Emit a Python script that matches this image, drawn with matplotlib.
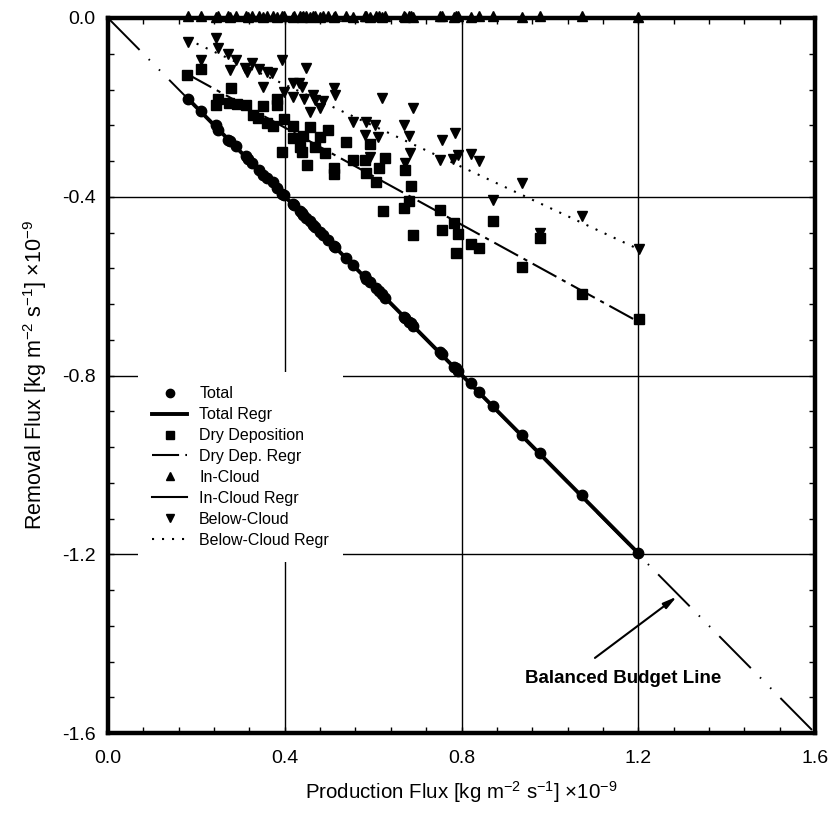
import matplotlib
matplotlib.use("Agg")
import matplotlib.pyplot as plt
from matplotlib.ticker import MultipleLocator
import numpy as np

plt.rcParams['font.family'] = ['Liberation Sans', 'DejaVu Sans']
plt.rcParams['mathtext.fontset'] = 'custom'
plt.rcParams['mathtext.rm'] = 'Liberation Sans'
plt.rcParams['mathtext.it'] = 'Liberation Sans'

# ---------------- data ----------------
total_x = [0.180, 0.210, 0.244, 0.250, 0.272, 0.277, 0.290, 0.312, 0.316, 0.327,
           0.341, 0.350, 0.359, 0.373, 0.383, 0.394, 0.398, 0.418, 0.420, 0.434,
           0.438, 0.442, 0.449, 0.457, 0.465, 0.468, 0.480, 0.487, 0.498, 0.512,
           0.514, 0.538, 0.555, 0.581, 0.585, 0.593, 0.606, 0.613, 0.621, 0.628,
           0.671, 0.673, 0.682, 0.686, 0.691, 0.751, 0.755, 0.783, 0.787, 0.793,
           0.821, 0.840, 0.872, 0.937, 0.977, 1.072, 1.200]
total_y = [-0.181, -0.209, -0.240, -0.250, -0.273, -0.275, -0.287, -0.309, -0.316, -0.325,
           -0.340, -0.351, -0.357, -0.368, -0.381, -0.393, -0.395, -0.417, -0.419, -0.432,
           -0.437, -0.441, -0.447, -0.455, -0.463, -0.467, -0.478, -0.486, -0.496, -0.510,
           -0.512, -0.536, -0.553, -0.578, -0.583, -0.591, -0.604, -0.611, -0.618, -0.626,
           -0.668, -0.671, -0.680, -0.683, -0.689, -0.748, -0.752, -0.780, -0.784, -0.790,
           -0.817, -0.836, -0.869, -0.933, -0.973, -1.068, -1.197]

dry_x = [0.179, 0.210, 0.278, 0.250, 0.244, 0.274, 0.291, 0.312, 0.351, 0.383,
         0.383, 0.329, 0.340, 0.359, 0.373, 0.398, 0.418, 0.457, 0.442, 0.419,
         0.480, 0.498, 0.434, 0.468, 0.393, 0.440, 0.491, 0.450, 0.512, 0.512,
         0.538, 0.555, 0.593, 0.581, 0.628, 0.585, 0.613, 0.606, 0.673, 0.686,
         0.682, 0.623, 0.671, 0.691, 0.751, 0.757, 0.783, 0.793, 0.787, 0.821,
         0.840, 0.872, 0.936, 0.977, 1.072, 1.202]
dry_y = [-0.128, -0.115, -0.157, -0.182, -0.195, -0.191, -0.192, -0.195, -0.197, -0.195,
         -0.182, -0.217, -0.224, -0.236, -0.242, -0.227, -0.242, -0.243, -0.264, -0.269,
         -0.267, -0.251, -0.288, -0.288, -0.299, -0.299, -0.303, -0.330, -0.336, -0.348,
         -0.277, -0.318, -0.282, -0.318, -0.314, -0.346, -0.336, -0.366, -0.340, -0.377,
         -0.409, -0.433, -0.426, -0.485, -0.430, -0.474, -0.458, -0.483, -0.526, -0.506,
         -0.515, -0.454, -0.558, -0.493, -0.618, -0.674]

below_x = [0.180, 0.210, 0.244, 0.250, 0.272, 0.289, 0.276, 0.310, 0.314, 0.327,
           0.342, 0.359, 0.372, 0.394, 0.350, 0.449, 0.419, 0.433, 0.438, 0.398,
           0.418, 0.444, 0.465, 0.468, 0.487, 0.480, 0.457, 0.512, 0.514, 0.621,
           0.555, 0.585, 0.604, 0.581, 0.610, 0.593, 0.691, 0.671, 0.682, 0.683,
           0.672, 0.755, 0.785, 0.751, 0.781, 0.793, 0.821, 0.840, 0.872, 0.937,
           0.977, 1.072, 1.202]
below_y = [-0.053, -0.094, -0.045, -0.068, -0.080, -0.094, -0.116, -0.113, -0.120, -0.101,
           -0.115, -0.120, -0.124, -0.094, -0.154, -0.113, -0.146, -0.145, -0.155, -0.165,
           -0.176, -0.182, -0.172, -0.183, -0.185, -0.202, -0.210, -0.157, -0.172, -0.180,
           -0.232, -0.232, -0.239, -0.262, -0.266, -0.310, -0.202, -0.239, -0.264, -0.303,
           -0.325, -0.273, -0.258, -0.318, -0.316, -0.306, -0.304, -0.320, -0.407, -0.370,
           -0.480, -0.444, -0.517]

incloud_x = total_x
incloud_y = [0.004, 0.004, 0.003, 0.004, 0.004, 0.003, 0.004, 0.004, 0.003, 0.004,
             0.004, 0.003, 0.004, 0.004, 0.003, 0.004, 0.004, 0.003, 0.004, 0.004,
             0.003, 0.004, 0.004, 0.003, 0.004, 0.004, 0.003, 0.004, 0.004, 0.003,
             0.004, 0.004, 0.003, 0.004, 0.004, 0.003, 0.004, 0.004, 0.003, 0.004,
             0.004, 0.003, 0.004, 0.004, 0.003, 0.004, 0.004, 0.003, 0.004, 0.004,
             0.003, 0.004, 0.004, 0.003, 0.004, 0.004, 0.003]

# regression lines (slope, intercept)
total_regr = (-0.998, 0.0)
dry_regr = (-0.543, -0.028)
incloud_regr = (-0.001, 0.0)
below_regr = (-0.460, 0.035)
regr_range = [0.18, 1.20]

budget_range = [0.0, 1.6]

xticks = [0.0, 0.4, 0.8, 1.2, 1.6]
yticks = [-1.6, -1.2, -0.8, -0.4, 0.0]

# annotation (data coordinates)
note_text = "Balanced Budget Line"
note_pos = (1.166, -1.477)
arrow_tail = (1.102, -1.432)
arrow_head = (1.287, -1.295)

# ---------------- figure ----------------
fig = plt.figure(figsize=(8.36, 8.14), dpi=100)
ax = fig.add_axes([108 / 836, 1 - 733 / 814, 707 / 836, 715 / 814])

xr = np.array(regr_range)
xb = np.array(budget_range)

# balanced budget line (y = -x)
ax.plot(xb, -xb, color='black', lw=1.4,
        linestyle=(0, (23.1, 6.67, 0.8, 6.67, 0.8, 6.67)), zorder=2)

ax.plot(total_x, total_y, 'o', color='black', ms=7.5, label='Total', zorder=4)
ax.plot(xr, total_regr[0] * xr + total_regr[1], '-', color='black', lw=2.8,
        label='Total Regr', zorder=3)
ax.plot(dry_x, dry_y, 's', color='black', ms=6.5, label='Dry Deposition', zorder=4)
ax.plot(xr, dry_regr[0] * xr + dry_regr[1], color='black', lw=1.5,
        linestyle=(0, (13, 3, 2, 3)), label='Dry Dep. Regr', zorder=3)
ax.plot(incloud_x, incloud_y, '^', color='black', ms=6.5, label='In-Cloud',
        zorder=4.5, clip_on=False)
ax.plot(xr, incloud_regr[0] * xr + incloud_regr[1], '-', color='black', lw=1.5,
        label='In-Cloud Regr', zorder=3)
ax.plot(below_x, below_y, 'v', color='black', ms=7.5, label='Below-Cloud', zorder=4)
ax.plot(xr, below_regr[0] * xr + below_regr[1], color='black', lw=1.5,
        linestyle=(0, (1, 3.8)), label='Below-Cloud Regr', zorder=3)

ax.set_xlim(0, 1.6)
ax.set_ylim(-1.6, 0)
ax.set_xticks(xticks)
ax.set_yticks(yticks)
ax.set_xticklabels([f"{v:.1f}" for v in xticks])
ax.set_yticklabels([f"{v:.1f}" for v in yticks])
ax.xaxis.set_minor_locator(MultipleLocator(0.08))
ax.yaxis.set_minor_locator(MultipleLocator(0.08))
ax.tick_params(which='both', direction='in', top=True, right=True,
               length=4.5, width=1.0, color='black')
ax.tick_params(axis='x', which='major', labelsize=14, pad=12)
ax.tick_params(axis='y', which='major', labelsize=14, pad=9)

ax.grid(which='major', color='black', lw=1.0)
ax.set_axisbelow(True)
for s in ax.spines.values():
    s.set_linewidth(3.2)
    s.set_zorder(5)

ax.set_xlabel(r"Production Flux [kg m$^{-2}$ s$^{-1}$] $\times$10$^{-9}$",
              fontsize=14.8, labelpad=9)
ax.set_ylabel(r"Removal Flux [kg m$^{-2}$ s$^{-1}$] $\times$10$^{-9}$",
              fontsize=15.5, labelpad=9)

leg = ax.legend(loc='upper left', bbox_to_anchor=(0.042, 0.505), frameon=True,
                fancybox=False, edgecolor='none', facecolor='white', framealpha=1,
                fontsize=11.5, handlelength=2.2, handletextpad=0.75,
                labelspacing=0.37, borderpad=0.9, borderaxespad=0.0, markerscale=0.8)
leg.set_zorder(7)

ax.annotate("", xy=arrow_head, xytext=arrow_tail,
            arrowprops=dict(arrowstyle='-|>,head_length=0.8,head_width=0.2',
                            color='black', lw=1.5, shrinkA=0, shrinkB=0))
ax.text(note_pos[0], note_pos[1], note_text, fontsize=13.5, fontweight='bold',
        ha='center', va='center')

fig.savefig("out.png", dpi=100)
